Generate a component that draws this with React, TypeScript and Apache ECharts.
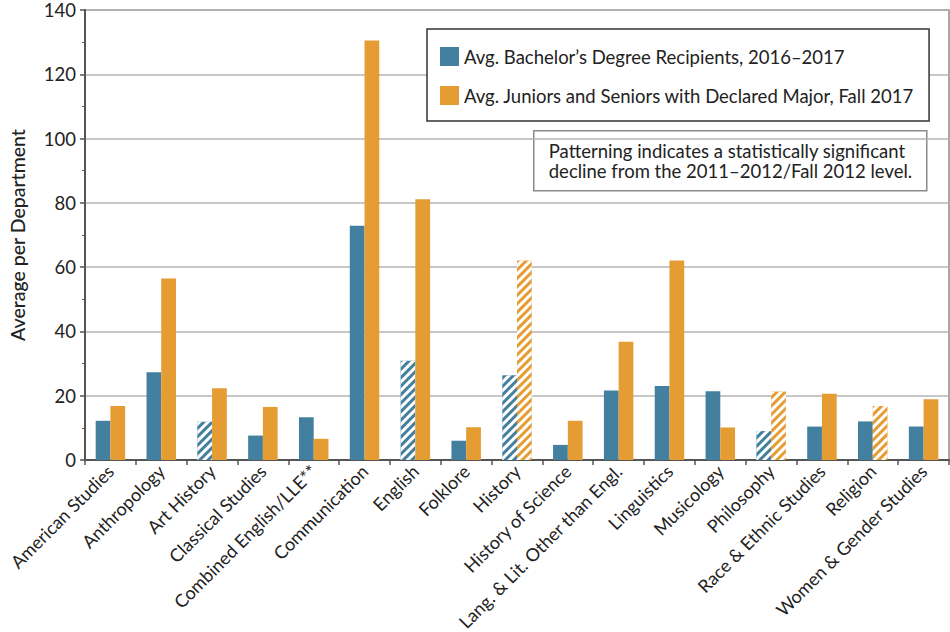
import React, { useEffect, useRef } from "react";
import * as echarts from "echarts";

const categories = [
  "American Studies",
  "Anthropology",
  "Art History",
  "Classical Studies",
  "Combined English/LLE**",
  "Communication",
  "English",
  "Folklore",
  "History",
  "History of Science",
  "Lang. & Lit. Other than Engl.",
  "Linguistics",
  "Musicology",
  "Philosophy",
  "Race & Ethnic Studies",
  "Religion",
  "Women & Gender Studies",
];

const bachelorValues = [12.2, 27.3, 11.9, 7.6, 13.3, 72.9, 30.9, 6.0, 26.4, 4.7, 21.6, 23.0, 21.4, 9.0, 10.4, 12.0, 10.4];
const juniorSeniorValues = [16.8, 56.5, 22.3, 16.5, 6.6, 130.5, 81.1, 10.2, 62.1, 12.2, 36.8, 62.1, 10.1, 21.3, 20.6, 16.8, 18.9];

const bachelorDecline = [false, false, true, false, false, false, true, false, true, false, false, false, false, true, false, false, false];
const juniorSeniorDecline = [false, false, false, false, false, false, false, false, true, false, false, false, false, true, false, true, false];

const yTicks = { min: 0, max: 140, interval: 20 };

const seriesNames = [
  "Avg. Bachelor\u2019s Degree Recipients, 2016\u20132017",
  "Avg. Juniors and Seniors with Declared Major, Fall 2017",
];

const noteLines = [
  "Patterning indicates a statistically significant",
  "decline from the 2011\u20132012/Fall 2012 level.",
];

const BLUE = "#43809f";
const ORANGE = "#e59c32";
const FONT = "Lato";

const stripe = {
  symbol: "rect",
  symbolSize: 1,
  color: "#ffffff",
  dashArrayX: [1, 0],
  dashArrayY: [3, 3],
  rotation: -Math.PI / 4,
};

function withDecal(values: number[], flags: boolean[]) {
  return values.map((v, i) => (flags[i] ? { value: v, itemStyle: { decal: stripe } } : v));
}

export default function App() {
  const ref = useRef<HTMLDivElement>(null);
  useEffect(() => {
    if (!ref.current) return;
    const chart = echarts.init(ref.current, undefined, { renderer: "svg" });
    chart.setOption({
      animation: false,
      backgroundColor: "#ffffff",
      textStyle: { fontFamily: FONT },
      grid: {
        left: 85,
        right: 1,
        top: 10,
        bottom: 172,
        containLabel: false,
        outerBoundsMode: "none",
        show: true,
        borderColor: "#8a8a8a",
        borderWidth: 1.5,
      },
      legend: {
        orient: "vertical",
        left: 427,
        top: 29,
        padding: [18, 15, 16, 13],
        itemWidth: 19,
        itemHeight: 19,
        itemGap: 20,
        backgroundColor: "#ffffff",
        borderColor: "#333333",
        borderWidth: 1.5,
        icon: "rect",
        textStyle: { fontSize: 18.5, color: "#222222", fontFamily: FONT },
        data: seriesNames,
      },
      xAxis: {
        type: "category",
        data: categories,
        boundaryGap: true,
        axisLine: { lineStyle: { color: "#555555", width: 2 } },
        axisTick: { show: true, length: 5, lineStyle: { color: "#555555", width: 1.5 } },
        axisLabel: {
          interval: 0,
          rotate: 45,
          fontSize: 18,
          color: "#222222",
          fontFamily: FONT,
          margin: 8,
        },
        splitLine: { show: false },
      },
      yAxis: {
        type: "value",
        min: yTicks.min,
        max: yTicks.max,
        interval: yTicks.interval,
        name: "Average per Department",
        nameLocation: "middle",
        nameRotate: 90,
        nameGap: 58,
        nameTextStyle: { fontSize: 19.5, color: "#222222", fontFamily: FONT, fontWeight: 500 },
        axisLine: { show: true, lineStyle: { color: "#555555", width: 2 } },
        axisTick: { show: true, length: 5, lineStyle: { color: "#555555", width: 1.5 } },
        minorTick: { show: true, splitNumber: 2, length: 3, lineStyle: { color: "#555555", width: 1 } },
        axisLabel: { fontSize: 18.5, color: "#222222", fontFamily: FONT, margin: 9 },
        splitLine: { show: true, lineStyle: { color: "#b5b5b5", width: 1.5 } },
      },
      series: [
        {
          name: seriesNames[0],
          type: "bar",
          barGap: "0%",
          barCategoryGap: "42%",
          itemStyle: { color: BLUE },
          data: withDecal(bachelorValues, bachelorDecline),
        },
        {
          name: seriesNames[1],
          type: "bar",
          barGap: "0%",
          barCategoryGap: "42%",
          itemStyle: { color: ORANGE },
          data: withDecal(juniorSeniorValues, juniorSeniorDecline),
        },
      ],
      graphic: [
        {
          type: "group",
          left: 533,
          top: 130,
          children: [
            {
              type: "rect",
              shape: { x: 0, y: 0, width: 393, height: 60 },
              style: { fill: "#ffffff", stroke: "#8a8a8a", lineWidth: 1.5 },
            },
            {
              type: "text",
              x: 15,
              y: 10,
              style: {
                text: noteLines.join("\n"),
                fontSize: 18.5,
                lineHeight: 20,
                fontFamily: FONT,
                fill: "#222222",
              },
            },
          ],
        },
      ],
    });
    return () => chart.dispose();
  }, []);
  return <div ref={ref} style={{ position: "fixed", left: 0, top: 0, width: 950, height: 632 }} />;
}
